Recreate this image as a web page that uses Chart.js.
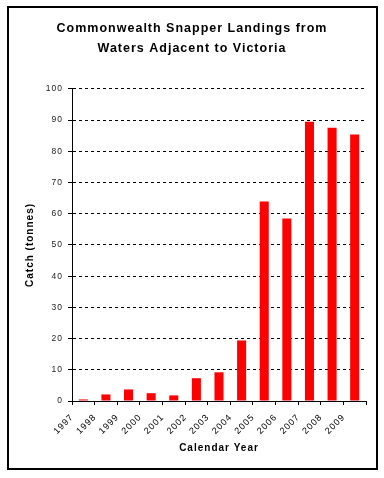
<!DOCTYPE html>
<html>
<head>
<meta charset="utf-8">
<script src="https://cdn.jsdelivr.net/npm/chart.js@4.4.1/dist/chart.umd.min.js"></script>
<style>
  body { margin: 0; background: #fff; }
  canvas { display: block; }
</style>
</head>
<body>
<canvas id="grafico" width="384" height="478"></canvas>
<script>
// valores
const anos = ['1997', '1998', '1999', '2000', '2001', '2002', '2003', '2004', '2005', '2006', '2007', '2008', '2009']
const captura = [0.5, 2.1, 3.7, 2.5, 1.8, 7.3, 9.2, 19.4, 63.9, 58.5, 89.5, 87.6, 85.4]
const titulo = ['Commonwealth Snapper Landings from', 'Waters Adjacent to Victoria']
const tituloX = 'Calendar Year'
const tituloY = 'Catch (tonnes)'

const fonte = 'Arial, "Liberation Sans", sans-serif'

// espacamento entre letras como no original + moldura externa
const estiloPlugin = {
    id: 'estilo',
    beforeDraw(chart) {
        chart.ctx.letterSpacing = '1px'
    },
    afterDraw(chart) {
        const ctx = chart.ctx
        ctx.save()
        ctx.strokeStyle = '#000'
        ctx.lineWidth = 2
        ctx.strokeRect(8, 7, 369, 462)
        ctx.restore()
    }
}

let ctx = document.getElementById('grafico').getContext('2d')
let myChart = new Chart(ctx, {
    type: 'bar',
    data: {
        labels: anos,
        datasets: [{
            data: captura,
            backgroundColor: '#ff0000',
            borderWidth: 0,
            barPercentage: 0.4,
            categoryPercentage: 1
        }]
    },
    options: {
        responsive: false,
        animation: false,
        devicePixelRatio: 1,
        layout: {
            padding: { left: 18, right: 18, top: 0, bottom: 0 }
        },
        plugins: {
            legend: { display: false },
            tooltip: { enabled: false },
            title: {
                display: true,
                text: titulo,
                color: '#000',
                font: { family: fonte, size: 12.5, weight: 'bold', lineHeight: 1.55 },
                padding: { top: 19, bottom: 31.2 }
            }
        },
        scales: {
            x: {
                grid: {
                    drawOnChartArea: false,
                    drawTicks: true,
                    tickLength: 4,
                    color: '#000',
                    offset: true
                },
                border: { color: '#000', width: 1 },
                ticks: {
                    font: { family: fonte, size: 9 },
                    color: '#000',
                    maxRotation: 45,
                    minRotation: 45,
                    autoSkip: false,
                    padding: 7,
                    labelOffset: -11
                },
                title: {
                    display: true,
                    text: tituloX,
                    color: '#000',
                    font: { family: fonte, size: 10, weight: 'bold' },
                    padding: { top: 0, bottom: 24 }
                },
                afterFit: function(scale) {
                    scale.height = 77
                }
            },
            y: {
                min: 0,
                max: 100,
                ticks: {
                    stepSize: 10,
                    font: { family: fonte, size: 8.5 },
                    color: '#222',
                    padding: 5
                },
                grid: {
                    color: '#000',
                    lineWidth: 1,
                    tickLength: 4,
                    tickBorderDash: []
                },
                border: { color: '#000', width: 1, dash: [3, 3] },
                title: {
                    display: true,
                    text: tituloY,
                    color: '#000',
                    font: { family: fonte, size: 10, weight: 'bold' },
                    padding: { top: 6, bottom: 0 }
                },
                afterFit: function(scale) {
                    scale.width = 54
                }
            }
        }
    },
    plugins: [estiloPlugin]
})
</script>
</body>
</html>
